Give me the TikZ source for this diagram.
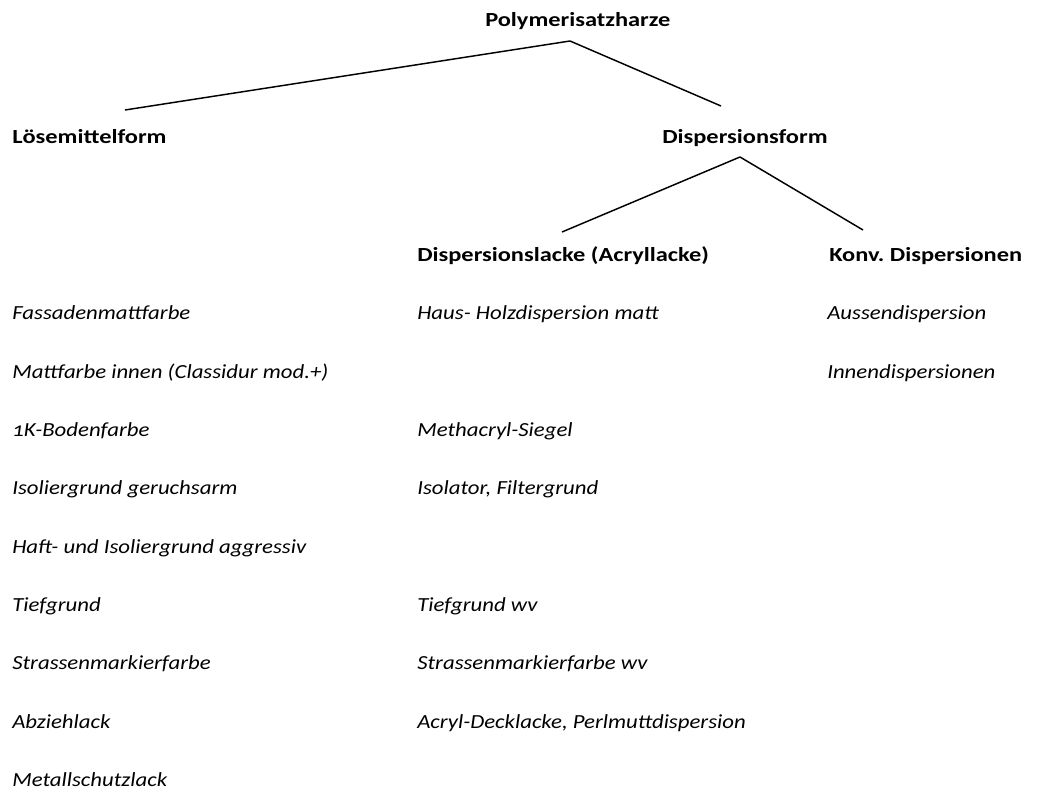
\documentclass[tikz,border=0pt]{standalone}
\usepackage{fontspec}
\setmainfont{Carlito}[Numbers=OldStyle,
  ItalicFeatures={FakeStretch=1.14},
  BoldFeatures={FakeStretch=1.22}]
\usepackage{tikz}
\usetikzlibrary{positioning,calc}

\begin{document}
\begin{tikzpicture}[
  x=0.75pt, y=-0.75pt,
  font=\fontsize{15}{18}\selectfont,
  head/.style={anchor=base west, inner sep=0pt, font=\fontsize{15}{18}\selectfont\bfseries},
  item/.style={anchor=base west, inner sep=0pt, font=\fontsize{15}{18}\selectfont\itshape},
  branch/.style={draw=black, line width=1.1pt},
]
\useasboundingbox (0,0) rectangle (1037,791);

% headings
\node[head] (poly)  at (485,27)  {Polymerisatzharze};
\node[head] (loese) at (12,144)  {Lösemittelform};
\node[head] (disp)  at (662,144) {Dispersionsform};
\node[head] (lack)  at (417,262) {Dispersionslacke (Acryllacke)};
\node[head] (konv)  at (829,262) {Konv.\ Dispersionen};

% tree
\draw[branch] ([shift={(85,14)}]poly.base west) -- ([shift={(113,-34)}]loese.base west);
\draw[branch] ([shift={(85,14)}]poly.base west) -- ([shift={(59,-38)}]disp.base west);
\draw[branch] ([shift={(78,13)}]disp.base west) -- ([shift={(145,-30)}]lack.base west);
\draw[branch] ([shift={(78,13)}]disp.base west) -- ([shift={(34,-32)}]konv.base west);

% products
\foreach \row/\txt in {1/Fassadenmattfarbe, 2/Mattfarbe innen (Classidur mod.+), 3/1K-Bodenfarbe,
    4/Isoliergrund geruchsarm, 5/Haft- und Isoliergrund aggressiv, 6/Tiefgrund,
    7/Strassenmarkierfarbe, 8/Abziehlack, 9/Metallschutzlack}
  \node[item] (l\row) at (12,320+58.3*\row-58.3) {\txt};

\foreach \row/\txt in {1/Haus- Holzdispersion matt, 3/Methacryl-Siegel, 4/{Isolator, Filtergrund},
    6/Tiefgrund wv, 7/Strassenmarkierfarbe wv, 8/{Acryl-Decklacke, Perlmuttdispersion}}
  \node[item] (m\row) at (417,320+58.3*\row-58.3) {\txt};

\foreach \row/\txt in {1/Aussendispersion, 2/Innendispersionen}
  \node[item] (r\row) at (827,320+58.3*\row-58.3) {\txt};

\end{tikzpicture}
\end{document}
